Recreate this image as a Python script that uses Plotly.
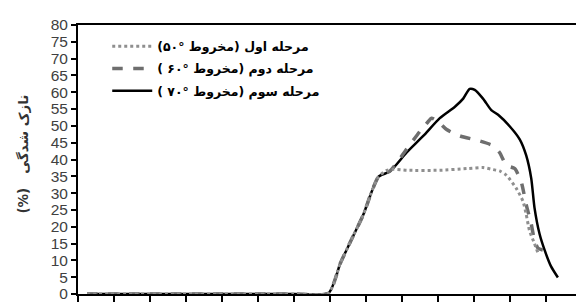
import plotly.graph_objects as go

# ---- data ----
x_stage1 = [0.25, 2.0, 4.0, 6.0, 6.96, 7.29, 7.61, 7.93, 8.16, 8.35, 8.58, 8.76, 9.13, 10.05, 10.8, 11.25, 11.53, 11.71, 11.9, 12.17, 12.36, 12.45, 12.54, 12.68, 12.78]
y_stage1 = [0, 0, 0, 0, 0.3, 9.2, 16.5, 23.7, 30.5, 34.9, 36.8, 37.1, 36.8, 36.8, 37.3, 37.6, 37.0, 36.6, 35.3, 31.5, 27.6, 23.7, 18.9, 15.0, 12.1]

x_stage2 = [0.25, 2.0, 4.0, 6.0, 6.96, 7.29, 7.61, 7.93, 8.16, 8.35, 8.67, 9.13, 9.50, 9.73, 9.82, 10.0, 10.24, 10.61, 11.16, 11.53, 11.71, 11.9, 12.13, 12.31, 12.45, 12.59, 12.68, 12.78, 12.91]
y_stage2 = [0, 0, 0, 0, 0.3, 9.2, 16.5, 23.7, 30.5, 34.9, 36.6, 43.1, 48.4, 51.3, 52.3, 51.3, 48.9, 47.0, 45.5, 44.1, 42.1, 38.3, 37.3, 33.4, 26.6, 20.8, 16.0, 13.6, 13.1]

x_stage3 = [0.25, 2.0, 4.0, 6.0, 6.96, 7.29, 7.61, 7.93, 8.16, 8.35, 8.67, 9.13, 9.59, 10.05, 10.47, 10.70, 10.88, 11.02, 11.25, 11.48, 11.67, 11.99, 12.27, 12.45, 12.59, 12.68, 12.82, 12.96, 13.14, 13.33]
y_stage3 = [0, 0, 0, 0, 0.3, 9.2, 16.5, 23.7, 30.5, 34.9, 36.5, 42.1, 47.0, 52.3, 55.7, 58.1, 61.0, 60.7, 58.1, 54.7, 53.3, 49.9, 46.0, 41.2, 34.4, 25.7, 17.9, 13.1, 8.2, 4.9]

RLM = "\u200f"
names = [
    RLM + "مرحله اول (مخروط °۵۰)" + RLM,
    RLM + "مرحله دوم (مخروط °۶۰ )" + RLM,
    RLM + "مرحله سوم (مخروط °۷۰ )" + RLM,
]
y_ticks = list(range(0, 81, 5))
x_ticks = list(range(0, 15))
y_title = "(%)   نازک شدگی"

fig = go.Figure()
fig.add_trace(go.Scatter(x=x_stage3, y=y_stage3, mode="lines", name=names[2],
                         line=dict(color="black", width=2.5, shape="spline", smoothing=0.6),
                         legendrank=3, legendgroup="c"))
fig.add_trace(go.Scatter(x=x_stage2, y=y_stage2, mode="lines", name=names[1],
                         line=dict(color="#6e6e6e", width=3.5, dash="dash", shape="spline", smoothing=0.6),
                         legendrank=2, legendgroup="b"))
fig.add_trace(go.Scatter(x=x_stage1, y=y_stage1, mode="lines", name=names[0],
                         line=dict(color="#8f8f8f", width=3, dash="dot", shape="spline", smoothing=0.6),
                         legendrank=1, legendgroup="a"))

fig.update_layout(
    width=584, height=302,
    margin=dict(l=70, r=8, t=16, b=10),
    paper_bgcolor="white", plot_bgcolor="white",
    showlegend=True,
    legend=dict(x=0.058, y=0.975, xanchor="left", yanchor="top",
                bgcolor="rgba(0,0,0,0)", itemwidth=40, tracegroupgap=3,
                font=dict(family="DejaVu Sans", size=12.5, color="black", weight="bold")),
    xaxis=dict(range=[0, 14], tickvals=x_ticks, showticklabels=False,
               ticks="outside", ticklen=7, tickwidth=1.5, tickcolor="black",
               showline=True, linecolor="black", linewidth=2, mirror=True,
               showgrid=False, zeroline=False),
    yaxis=dict(range=[0, 80], tickvals=y_ticks,
               ticks="outside", ticklen=5, tickwidth=1.5, tickcolor="black",
               tickfont=dict(family="Liberation Sans", size=15.5, color="#404040"),
               showline=True, linecolor="black", linewidth=2, mirror=True,
               showgrid=False, zeroline=False),
    annotations=[dict(text=y_title, textangle=-90, xref="paper", yref="paper",
                      x=-0.128, y=0.52, showarrow=False,
                      font=dict(family="DejaVu Sans", size=13.5, color="#333333", weight="bold"))],
)

fig.write_html("out.html")
